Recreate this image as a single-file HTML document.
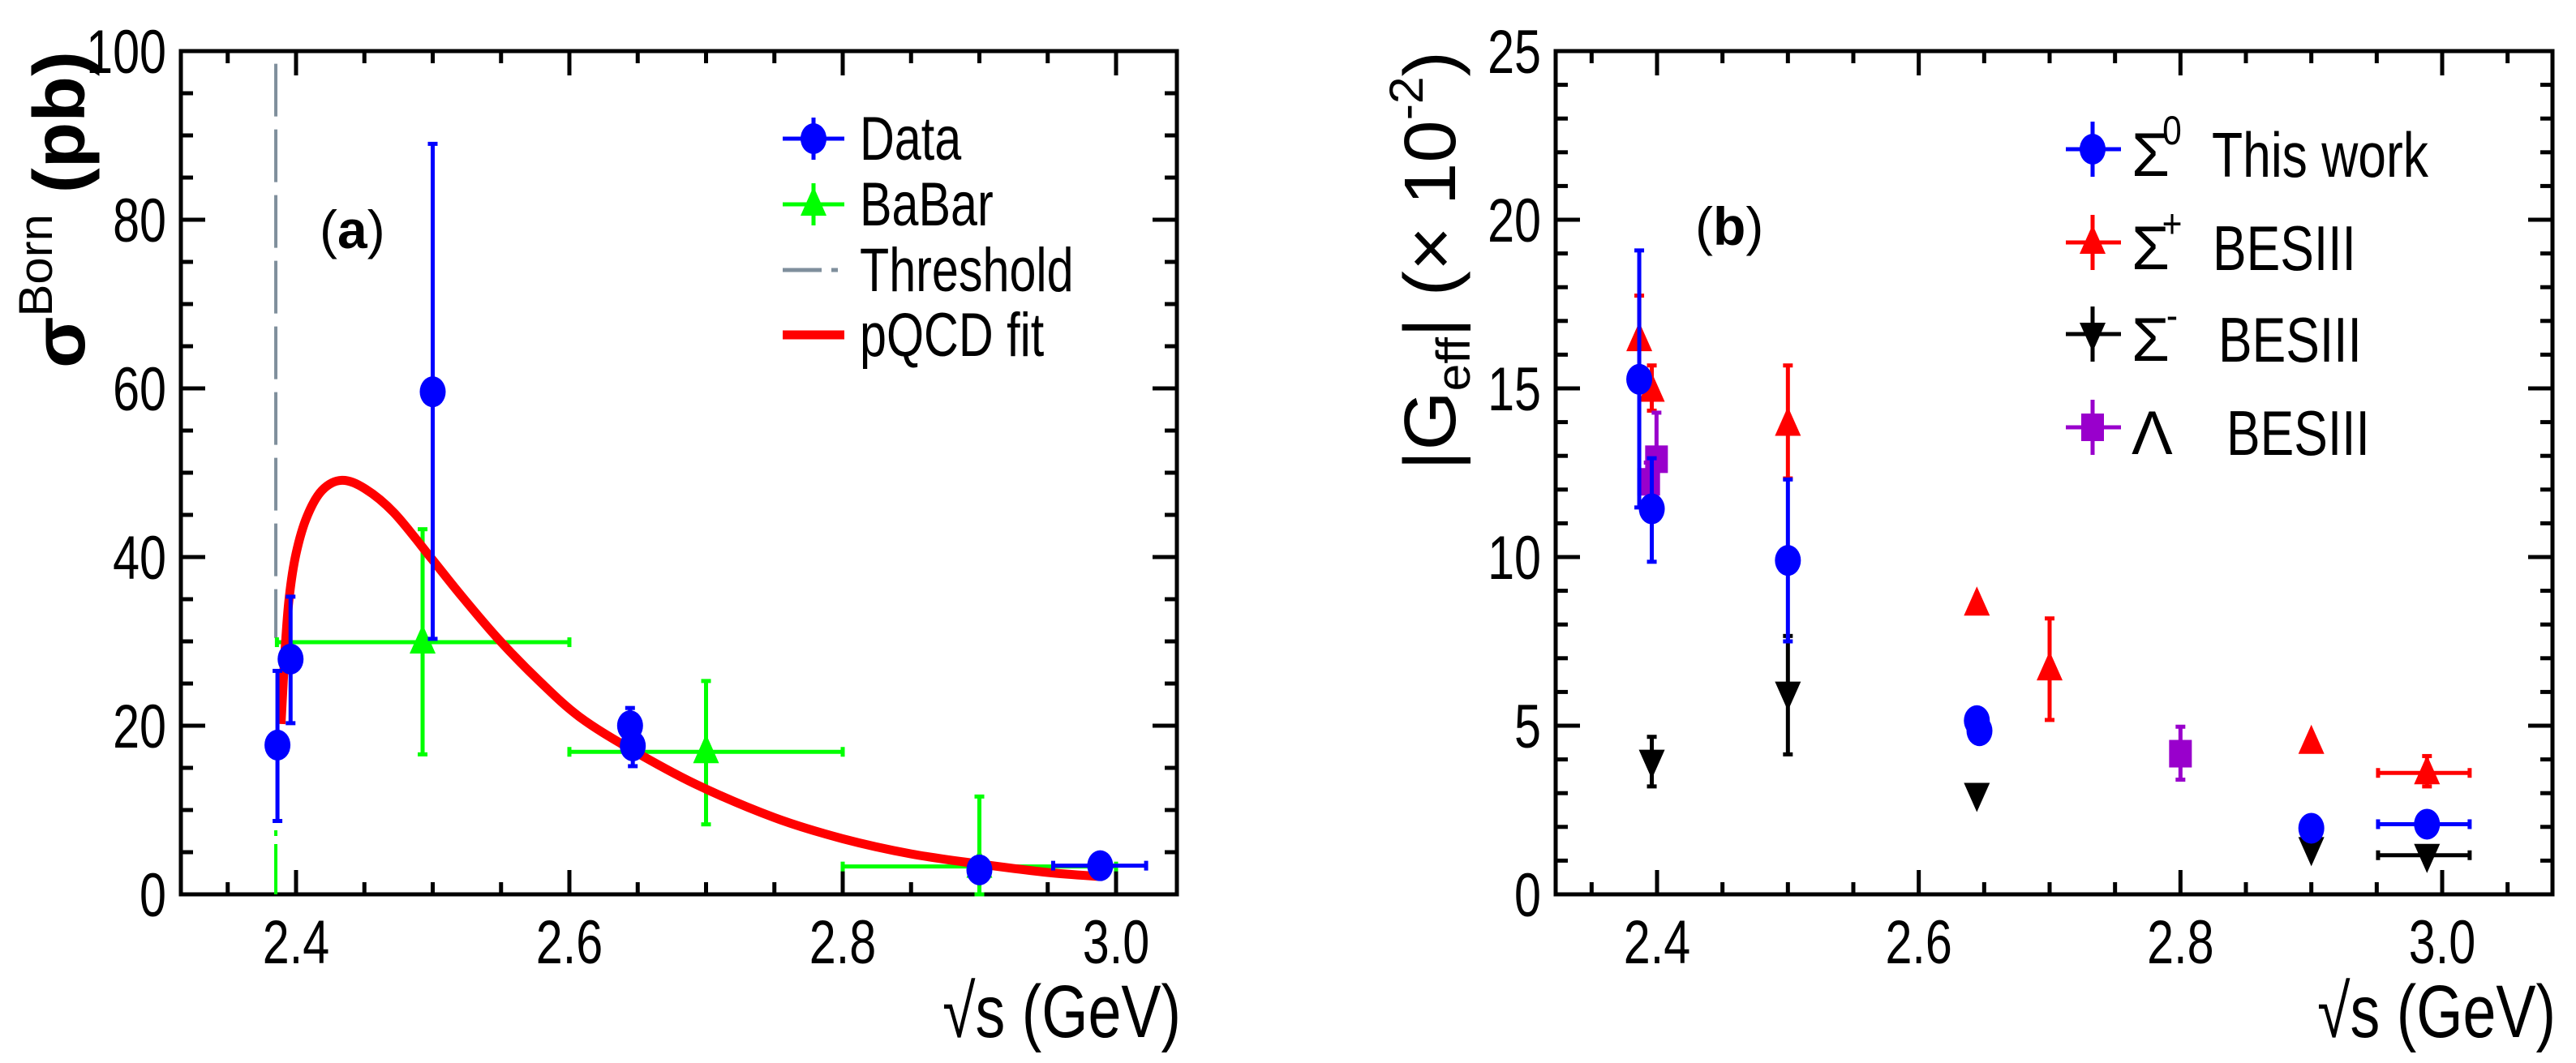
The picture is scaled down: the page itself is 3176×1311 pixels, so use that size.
<!DOCTYPE html>
<html><head><meta charset="utf-8">
<style>
html,body{margin:0;padding:0;background:#fff;}
svg{display:block;}
text{font-family:"Liberation Sans",sans-serif;}
</style></head>
<body>
<svg id="fig" xmlns="http://www.w3.org/2000/svg" width="3176" height="1311" viewBox="0 0 3176 1311">
<rect x="0" y="0" width="3176" height="1311" fill="#fff"/>
<g id="pa"></g>
<g id="pb"></g>
</svg>
<script>
// ---------- Panel (a) data ----------
const dataE = [2.3864, 2.3960, 2.5000, 2.6444, 2.6464, 2.9000, 2.9884];
const dataSigma = [17.7, 27.9, 59.6, 20.0, 17.6, 2.9, 3.4];
const dataLo = [8.7, 20.3, 30.3, 18.0, 15.2, 2.0, 2.6];
const dataHi = [26.5, 35.3, 89.0, 22.1, 20.0, 3.8, 4.2];
const dataXLo = [2.3864, 2.3960, 2.5000, 2.6444, 2.6464, 2.9000, 2.954];
const dataXHi = [2.3864, 2.3960, 2.5000, 2.6444, 2.6464, 2.9000, 3.022];

const babarE = [2.4926, 2.7, 2.9];
const babarSigma = [29.9, 16.9, 3.3];
const babarLo = [16.6, 8.3, 0];
const babarHi = [43.3, 25.3, 11.6];
const babarXLo = [2.386, 2.6, 2.8];
const babarXHi = [2.6, 2.8, 3.0];

const thresholdE = 2.3852;
const thresholdTop = 98.5;
const thresholdBottom = 30.4;
const thresholdGreenTop = 7.6;

const fitE = [2.389, 2.392, 2.395, 2.4, 2.408, 2.419, 2.4335, 2.4505, 2.472, 2.4997, 2.522, 2.549, 2.578, 2.607, 2.644, 2.692, 2.75, 2.8, 2.85, 2.9, 2.95, 2.99];
const fitSigma = [20.2, 29.0, 35.2, 40.4, 44.8, 47.9, 49.1, 48.1, 45.2, 39.7, 35.2, 30.1, 25.3, 21.1, 17.3, 13.1, 9.1, 6.6, 4.8, 3.6, 2.6, 2.1];

const aXTicks = [2.4, 2.6, 2.8, 3.0];
const aXTickLabels = ["2.4", "2.6", "2.8", "3.0"];
const aYTicks = [0, 20, 40, 60, 80, 100];
const aYTickLabels = ["0", "20", "40", "60", "80", "100"];

// ---------- Panel (b) data ----------
const s0E = [2.3864, 2.3960, 2.5000, 2.6444, 2.6464, 2.9000, 2.9884];
const s0G = [15.27, 11.43, 9.90, 5.15, 4.85, 1.96, 2.08];
const s0Lo = [11.47, 9.86, 7.50, 5.15, 4.85, 1.96, 2.08];
const s0Hi = [19.09, 12.93, 12.30, 5.15, 4.85, 1.96, 2.08];
const s0XLo = [2.3864, 2.3960, 2.5000, 2.6444, 2.6464, 2.9000, 2.951];
const s0XHi = [2.3864, 2.3960, 2.5000, 2.6444, 2.6464, 2.9000, 3.021];

const spE = [2.3864, 2.3960, 2.5000, 2.6444, 2.7000, 2.9000, 2.9884];
const spG = [16.44, 14.94, 13.93, 8.60, 6.68, 4.50, 3.60];
const spLo = [16.44, 14.34, 12.33, 8.60, 5.17, 4.50, 3.20];
const spHi = [17.75, 15.68, 15.68, 8.60, 8.18, 4.50, 4.10];
const spXLo = [2.3864, 2.3960, 2.5000, 2.6444, 2.7000, 2.9000, 2.951];
const spXHi = [2.3864, 2.3960, 2.5000, 2.6444, 2.7000, 2.9000, 3.021];

const smE = [2.3960, 2.5000, 2.6444, 2.9000, 2.9884];
const smG = [3.95, 5.97, 2.97, 1.36, 1.16];
const smLo = [3.20, 4.15, 2.97, 1.36, 1.16];
const smHi = [4.67, 7.66, 2.97, 1.36, 1.16];
const smXLo = [2.3960, 2.5000, 2.6444, 2.9000, 2.951];
const smXHi = [2.3960, 2.5000, 2.6444, 2.9000, 3.021];

const lamE = [2.3936, 2.3996, 2.8];
const lamG = [12.23, 12.90, 4.17];
const lamLo = [11.70, 11.60, 3.40];
const lamHi = [12.80, 14.28, 4.97];

const bXTicks = [2.4, 2.6, 2.8, 3.0];
const bXTickLabels = ["2.4", "2.6", "2.8", "3.0"];
const bYTicks = [0, 5, 10, 15, 20, 25];
const bYTickLabels = ["0", "5", "10", "15", "20", "25"];

// ---------- helpers ----------
const NS = "http://www.w3.org/2000/svg";
function el(parent, tag, attrs) {
  const e = document.createElementNS(NS, tag);
  for (const k in attrs) e.setAttribute(k, attrs[k]);
  parent.appendChild(e);
  return e;
}
function makeScale(d0, d1, p0, p1) { return v => p0 + (v - d0) * (p1 - p0) / (d1 - d0); }
function narrowText(parent, x, y, str, size, anchor, sx) {
  const t = el(parent, "text", {transform: "translate(" + x + "," + y + ") scale(" + (sx || 0.8) + ",1)", "font-size": size, "text-anchor": anchor || "start", fill: "#000"});
  t.textContent = str;
  return t;
}
function smoothPath(pts) {
  let d = "M" + pts[0][0].toFixed(1) + "," + pts[0][1].toFixed(1);
  for (let i = 0; i < pts.length - 1; i++) {
    const p0 = pts[i - 1] || pts[i], p1 = pts[i], p2 = pts[i + 1], p3 = pts[i + 2] || p2;
    const c1x = p1[0] + (p2[0] - p0[0]) / 6, c1y = p1[1] + (p2[1] - p0[1]) / 6;
    const c2x = p2[0] - (p3[0] - p1[0]) / 6, c2y = p2[1] - (p3[1] - p1[1]) / 6;
    d += " C" + c1x.toFixed(1) + "," + c1y.toFixed(1) + " " + c2x.toFixed(1) + "," + c2y.toFixed(1) + " " + p2[0].toFixed(1) + "," + p2[1].toFixed(1);
  }
  return d;
}

function drawFrame(g, L, R, T, B, xs, ys, xmin, xmax, xMaj, xLab, yMaj, yLab, yMinStep, yMax) {
  const ax = el(g, "g", {});
  
  
  el(ax, "rect", {x: L, y: T, width: R - L, height: B - T, fill: "none", stroke: "#000", "stroke-width": 5});
  for (let v = Math.ceil(xmin / 0.05) * 0.05; v <= xmax + 1e-9; v += 0.05) {
    const px = xs(v);
    const isMaj = xMaj.some(m => Math.abs(m - v) < 1e-6);
    const len = isMaj ? 30 : 15;
    el(ax, "line", {x1: px, y1: B, x2: px, y2: B - len, stroke: "#000", "stroke-width": 5});
    el(ax, "line", {x1: px, y1: T, x2: px, y2: T + len, stroke: "#000", "stroke-width": 5});
  }
  for (let v = 0; v <= yMax + 1e-9; v += yMinStep) {
    const py = ys(v);
    const isMaj = yMaj.some(m => Math.abs(m - v) < 1e-6);
    const len = isMaj ? 30 : 15;
    el(ax, "line", {x1: L, y1: py, x2: L + len, y2: py, stroke: "#000", "stroke-width": 5});
    el(ax, "line", {x1: R, y1: py, x2: R - len, y2: py, stroke: "#000", "stroke-width": 5});
  }
  xMaj.forEach((v, i) => {
    const t = narrowText(g, xs(v), 1188, xLab[i], 76, "middle", 0.78);
    
    
  });
  yMaj.forEach((v, i) => {
    const t = narrowText(g, L - 18, ys(v) + 27, yLab[i], 76, "end", 0.78);
    
    
  });
}

function errBars(g, color, xs, ys, E, V, lo, hi, xlo, xhi) {
  E.forEach((e, i) => {
    const px = xs(e), py = ys(V[i]);
    if (hi[i] - lo[i] > 0.01) {
      const l = el(g, "line", {x1: px, y1: ys(lo[i]), x2: px, y2: ys(hi[i]), stroke: color, "stroke-width": 5});
      
      
      if (lo[i] < V[i] - 0.01) el(g, "line", {x1: px - 6, y1: ys(lo[i]), x2: px + 6, y2: ys(lo[i]), stroke: color, "stroke-width": 5});
      if (hi[i] > V[i] + 0.01) el(g, "line", {x1: px - 6, y1: ys(hi[i]), x2: px + 6, y2: ys(hi[i]), stroke: color, "stroke-width": 5});
    }
    if (xlo && xhi[i] - xlo[i] > 0.001) {
      const l = el(g, "line", {x1: xs(xlo[i]), y1: py, x2: xs(xhi[i]), y2: py, stroke: color, "stroke-width": 5});
      
      
      el(g, "line", {x1: xs(xlo[i]), y1: py - 6, x2: xs(xlo[i]), y2: py + 6, stroke: color, "stroke-width": 5});
      el(g, "line", {x1: xs(xhi[i]), y1: py - 6, x2: xs(xhi[i]), y2: py + 6, stroke: color, "stroke-width": 5});
    }
  });
}
function marker(g, type, color, px, py) {
  let m;
  if (type === "circle") m = el(g, "ellipse", {cx: px, cy: py, rx: 16, ry: 19, fill: color});
  else if (type === "up") m = el(g, "polygon", {points: (px - 16) + "," + (py + 14) + " " + (px + 16) + "," + (py + 14) + " " + px + "," + (py - 22), fill: color});
  else if (type === "down") m = el(g, "polygon", {points: (px - 16) + "," + (py - 14) + " " + (px + 16) + "," + (py - 14) + " " + px + "," + (py + 22), fill: color});
  else m = el(g, "rect", {x: px - 14, y: py - 17, width: 28, height: 34, fill: color});
  return m;
}
function markers(g, type, color, xs, ys, E, V, name) {
  E.forEach((e, i) => {
    const m = marker(g, type, color, xs(e), ys(V[i]));
    
    
  });
}

// ---------- Panel (a) ----------
(function () {
  const g = document.getElementById("pa");
  const L = 223, R = 1451, T = 63, B = 1103;
  const xmin = 2.3157, xmax = 3.0445;
  const xs = makeScale(2.4, 3.0, 365, 1376);
  const ys = makeScale(0, 100, B, T);
  drawFrame(g, L, R, T, B, xs, ys, xmin, xmax, aXTicks, aXTickLabels, aYTicks, aYTickLabels, 5, 100);

  const th = el(g, "line", {x1: xs(thresholdE), y1: ys(thresholdTop), x2: xs(thresholdE), y2: ys(thresholdBottom), stroke: "#7f8f9c", "stroke-width": 4, "stroke-dasharray": "65 16"});
  
  
  const tg = el(g, "line", {x1: xs(thresholdE), y1: ys(0), x2: xs(thresholdE), y2: ys(thresholdGreenTop), stroke: "#00ff00", "stroke-width": 4, "stroke-dasharray": "62 10"});
  
  

  const gb = el(g, "g", {});
  
  
  errBars(gb, "#00ff00", xs, ys, babarE, babarSigma, babarLo, babarHi, babarXLo, babarXHi);
  markers(gb, "up", "#00ff00", xs, ys, babarE, babarSigma, 'babar-point');

  const pts = fitE.map((e, i) => [xs(e), ys(fitSigma[i])]);
  const fit = el(g, "path", {d: smoothPath(pts), fill: "none", stroke: "#ff0000", "stroke-width": 11, "stroke-linejoin": "round"});
  
  

  const gd = el(g, "g", {});
  
  
  errBars(gd, "#0000ff", xs, ys, dataE, dataSigma, dataLo, dataHi, dataXLo, dataXHi);
  markers(gd, "circle", "#0000ff", xs, ys, dataE, dataSigma, 'data-point');

  const lg = el(g, "g", {});
  
  
  const ly = [171, 252, 333, 413];
  const labels = ["Data", "BaBar", "Threshold", "pQCD fit"];
  const e0 = el(lg, "g", {});  
  el(e0, "line", {x1: 965, y1: ly[0], x2: 1041, y2: ly[0], stroke: "#0000ff", "stroke-width": 5});
  el(e0, "line", {x1: 1003, y1: ly[0] - 26, x2: 1003, y2: ly[0] + 26, stroke: "#0000ff", "stroke-width": 5});
  marker(e0, "circle", "#0000ff", 1003, ly[0]);
  const e1 = el(lg, "g", {});  
  el(e1, "line", {x1: 965, y1: ly[1], x2: 1041, y2: ly[1], stroke: "#00ff00", "stroke-width": 5});
  el(e1, "line", {x1: 1003, y1: ly[1] - 26, x2: 1003, y2: ly[1] + 26, stroke: "#00ff00", "stroke-width": 5});
  marker(e1, "up", "#00ff00", 1003, ly[1]);
  const e2 = el(lg, "g", {});  
  el(e2, "line", {x1: 965, y1: ly[2], x2: 1041, y2: ly[2], stroke: "#7f8f9c", "stroke-width": 5, "stroke-dasharray": "48 12 8 12"});
  const e3 = el(lg, "g", {});  
  el(e3, "line", {x1: 965, y1: ly[3], x2: 1041, y2: ly[3], stroke: "#ff0000", "stroke-width": 11});
  labels.forEach((s, i) => {
    const t = narrowText(lg, 1060, ly[i] + 26, s, 76, "start", 0.78);
    
    
  });

  const pl = el(g, "text", {x: 394, y: 306, "font-size": 66, "font-family": "Liberation Serif, serif", fill: "#000"});
  pl.innerHTML = '(<tspan font-weight="bold">a</tspan>)';
  
  

  const xt = narrowText(g, 1456, 1279, "\u221As (GeV)", 92, "end", 0.8);
  
  
  const yt = el(g, "text", {transform: "translate(104,454) rotate(-90)", "font-size": 90, "font-weight": "bold", fill: "#000", textLength: 391, lengthAdjust: "spacingAndGlyphs"});
  yt.innerHTML = '\u03C3<tspan font-size="58" font-weight="normal" dy="-40">Born</tspan><tspan dy="40"> (pb)</tspan>';
  
  
})();

// ---------- Panel (b) ----------
(function () {
  const g = document.getElementById("pb");
  const L = 1918, R = 3147, T = 63, B = 1103;
  const xmin = 2.3225, xmax = 3.084;
  const xs = makeScale(2.4, 3.0, 2043, 3011);
  const ys = makeScale(0, 25, B, T);
  drawFrame(g, L, R, T, B, xs, ys, xmin, xmax, bXTicks, bXTickLabels, bYTicks, bYTickLabels, 1, 25);

  const gm = el(g, "g", {});  
  errBars(gm, "#000000", xs, ys, smE, smG, smLo, smHi, smXLo, smXHi);
  markers(gm, "down", "#000000", xs, ys, smE, smG, 'sigma-minus-point');

  const gp = el(g, "g", {});  
  errBars(gp, "#ff0000", xs, ys, spE, spG, spLo, spHi, spXLo, spXHi);
  markers(gp, "up", "#ff0000", xs, ys, spE, spG, 'sigma-plus-point');

  const gl = el(g, "g", {});  
  errBars(gl, "#9900cc", xs, ys, lamE, lamG, lamLo, lamHi, null, null);
  markers(gl, "square", "#9900cc", xs, ys, lamE, lamG, 'lambda-point');

  const g0 = el(g, "g", {});  
  errBars(g0, "#0000ff", xs, ys, s0E, s0G, s0Lo, s0Hi, s0XLo, s0XHi);
  markers(g0, "circle", "#0000ff", xs, ys, s0E, s0G, 'sigma0-point');

  const lg = el(g, "g", {});
  
  
  const ly = [184, 299, 412, 527];
  const cols = ["#0000ff", "#ff0000", "#000000", "#9900cc"];
  const types = ["circle", "up", "down", "square"];
  const syms = ["\u03A3", "\u03A3", "\u03A3", "\u039B"];
  const sups = ["0", "+", "-", ""];
  const words = ["This work", "BESIII", "BESIII", "BESIII"];
  const wx = [2727, 2728, 2735, 2745];
  const names = ['legend-entry-sigma0', 'legend-entry-sigma-plus', 'legend-entry-sigma-minus', 'legend-entry-lambda'];
  ly.forEach((y, i) => {
    const e = el(lg, "g", {});
    
    
    el(e, "line", {x1: 2547, y1: y, x2: 2615, y2: y, stroke: cols[i], "stroke-width": 5});
    el(e, "line", {x1: 2580, y1: y - 34, x2: 2580, y2: y + 34, stroke: cols[i], "stroke-width": 5});
    marker(e, types[i], cols[i], 2580, y);
    const s = el(e, "text", {x: 2628, y: y + 33, "font-size": 76, "font-family": "Liberation Serif, serif", fill: "#000"});
    s.textContent = syms[i];
    if (sups[i]) narrowText(e, 2678, y - 6, sups[i], 50, "middle", 0.85);
    narrowText(e, wx[i], y + 34, words[i], 78, "start", 0.8);
  });

  const pl = el(g, "text", {x: 2090, y: 302, "font-size": 66, "font-family": "Liberation Serif, serif", fill: "#000"});
  pl.innerHTML = '(<tspan font-weight="bold">b</tspan>)';
  
  

  const xt = narrowText(g, 3151, 1279, "\u221As (GeV)", 92, "end", 0.8);
  
  
  const yt = el(g, "text", {transform: "translate(1794,580) rotate(-90)", "font-size": 90, fill: "#000", textLength: 517, lengthAdjust: "spacingAndGlyphs"});
  yt.innerHTML = '|G<tspan font-size="58" dy="18">eff</tspan><tspan dy="-18">| (\u00D7 10</tspan><tspan font-size="58" dy="-40">-2</tspan><tspan dy="40">)</tspan>';
  
  
})();
</script>
</body></html>
